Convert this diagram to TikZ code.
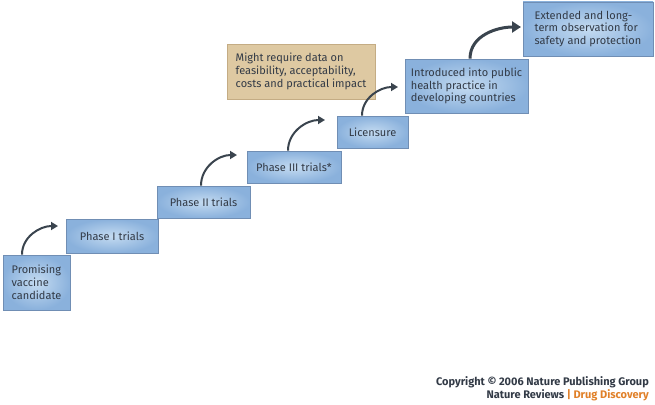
\documentclass[tikz,border=0pt]{standalone}
\usepackage{fontspec}
\setmainfont{Fira Sans}
\usetikzlibrary{arrows.meta}
\definecolor{boxedge}{RGB}{112,142,180}
\definecolor{boxout}{RGB}{138,177,220}
\definecolor{boxin}{RGB}{196,219,241}
\definecolor{noteedge}{RGB}{196,172,132}
\definecolor{notefill}{RGB}{222,201,162}
\definecolor{txt}{RGB}{50,58,70}
\definecolor{arrowc}{RGB}{58,68,78}
\definecolor{ndorange}{RGB}{224,128,40}
\begin{document}
\begin{tikzpicture}[x=1pt,y=-1pt,
  stage/.style={draw=boxedge,line width=0.8pt,inner color=boxin,outer color=boxout,
    text=txt,font=\fontsize{11}{12.8}\selectfont,align=left,inner sep=0pt,
    minimum height=#1},
  stage/.default=32pt,
  note/.style={draw=noteedge,line width=0.8pt,fill=notefill,text=txt,
    font=\fontsize{11}{12.8}\selectfont,align=left,inner sep=0pt},
  stagearrow/.style={draw=arrowc,line width=2pt,-{Triangle[length=7pt,width=8pt]}}]
\useasboundingbox (0,0) rectangle (655,404);

\node[stage=55pt,minimum width=67pt] (P0) at (36.5,282.5) {Promising\\vaccine\\candidate};
\node[stage=34pt,minimum width=92pt] (P1) at (112,236) {Phase I trials};
\node[stage,minimum width=93pt] (P2) at (203.5,202) {Phase II trials};
\node[stage,minimum width=94pt] (P3) at (294,167) {Phase III trials*};
\node[stage,minimum width=71pt] (L) at (372.5,132) {Licensure};
\node[stage=54pt,minimum width=123pt] (D) at (466.5,86) {Introduced into public\\health practice in\\developing countries};
\node[stage=54pt,minimum width=130pt] (O) at (588,29) {Extended and long-\\term observation for\\safety and protection};
\node[note,minimum width=148pt,minimum height=55pt] (N) at (301,71.5) {Might require data on\\feasibility, acceptability,\\costs and practical impact};

\coordinate (e0) at (58,226);
\coordinate (e1) at (237,155);
\coordinate (e2) at (325,120);
\coordinate (e3) at (398,87);
\coordinate (e4) at (521,27);

\draw[stagearrow] ([xshift=-14.5pt]P0.north) to[out=90,in=180] (e0);
\draw[stagearrow] ([xshift=-2.5pt]P2.north) to[out=90,in=180] (e1);
\draw[stagearrow] ([xshift=-6pt]P3.north) to[out=90,in=180] (e2);
\draw[stagearrow] ([xshift=-10.5pt]L.north) to[out=90,in=180] (e3);
\draw[stagearrow,line width=3pt,-{Triangle[length=9pt,width=11pt]}] ([xshift=3.5pt]D.north) to[out=90,in=180] (e4);

\node[anchor=east,inner sep=0pt,font=\bfseries\fontsize{11}{13}\selectfont,text=txt] (C) at (649,382) {Copyright © 2006 Nature Publishing Group};
\node[anchor=east,inner sep=0pt,font=\bfseries\fontsize{11}{13}\selectfont,text=txt] (R) at (649,395) {Nature Reviews {\color{ndorange}| Drug Discovery}};
\end{tikzpicture}
\end{document}
